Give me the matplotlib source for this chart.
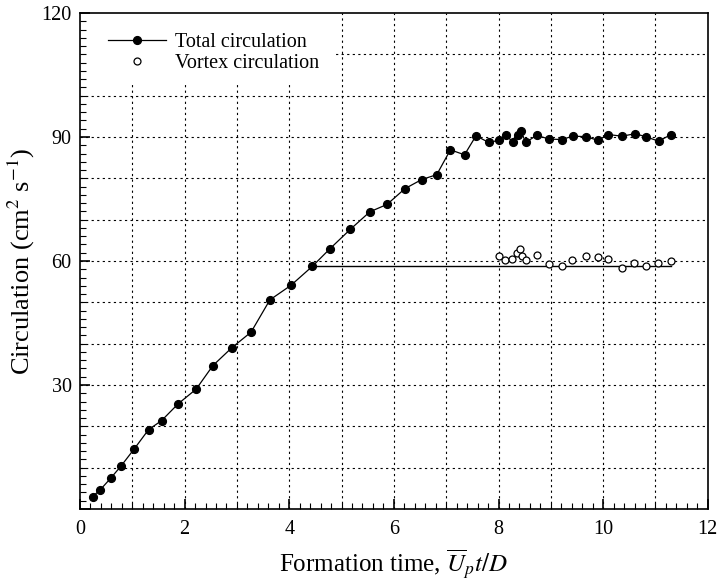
import matplotlib.pyplot as plt
from matplotlib.ticker import MultipleLocator
from matplotlib.patches import Rectangle

plt.rcParams['font.family'] = ['Liberation Serif', 'DejaVu Serif']
plt.rcParams['mathtext.fontset'] = 'stix'

# total circulation
total_t = [0.24, 0.39, 0.59, 0.79, 1.04, 1.31, 1.56, 1.88, 2.22, 2.54, 2.90, 3.27,
           3.63, 4.03, 4.44, 4.78, 5.17, 5.54, 5.87, 6.21, 6.53, 6.82, 7.08, 7.35,
           7.57, 7.81, 8.01, 8.14, 8.27, 8.38, 8.43, 8.52, 8.73, 8.97, 9.21, 9.42,
           9.67, 9.90, 10.10, 10.36, 10.61, 10.81, 11.06, 11.30]
total_c = [3.0, 4.7, 7.5, 10.5, 14.6, 19.2, 21.4, 25.5, 29.0, 34.7, 39.0, 42.8,
           50.6, 54.1, 58.7, 63.0, 67.7, 71.9, 73.7, 77.5, 79.7, 80.9, 86.9, 85.7,
           90.3, 88.7, 89.2, 90.4, 88.9, 90.6, 91.4, 88.7, 90.4, 89.5, 89.4, 90.2,
           90.1, 89.2, 90.6, 90.2, 90.8, 90.1, 89.0, 90.6]

# vortex circulation
vortex_t = [8.01, 8.13, 8.26, 8.35, 8.42, 8.45, 8.52, 8.73, 8.97, 9.21, 9.41,
            9.67, 9.90, 10.10, 10.36, 10.59, 10.81, 11.05, 11.30]
vortex_c = [61.1, 60.3, 60.5, 61.9, 62.9, 61.1, 60.3, 61.4, 59.3, 58.9, 60.3,
            61.1, 60.9, 60.5, 58.3, 59.5, 58.9, 59.5, 60.1]

# pinch-off level line
pinch_t = [4.44, 11.30]
pinch_c = [58.7, 58.7]

fig = plt.figure(figsize=(7.17, 5.84), dpi=100)
ax = fig.add_axes([0.1116, 0.1284, 0.8755, 0.8493])

grid_style = dict(color='black', lw=0.8, ls=(0, (2, 3)), zorder=0)
for gx in range(1, 12):
    ax.axvline(gx, **grid_style)
for gy in range(10, 120, 10):
    ax.axhline(gy, **grid_style)

# blank area behind the legend (grid is cut there in the original)
ax.add_patch(Rectangle((0, 0.855), 0.405, 0.145, transform=ax.transAxes,
                       facecolor='white', edgecolor='none', zorder=1))

ax.plot(pinch_t, pinch_c, color='black', lw=1.0, zorder=2)
ax.plot(total_t, total_c, color='black', lw=0.9, marker='o', ms=5.6,
        mfc='black', mec='black', label='Total circulation', zorder=3)
ax.plot(vortex_t, vortex_c, ls='none', marker='o', ms=5.0, mfc='white',
        mec='black', mew=0.9, label='Vortex circulation', zorder=3)

ax.set_xlim(0, 12)
ax.set_ylim(0, 120)
ax.xaxis.set_major_locator(MultipleLocator(2))
ax.xaxis.set_minor_locator(MultipleLocator(0.2))
ax.yaxis.set_minor_locator(MultipleLocator(2))
ax.set_yticks([0, 30, 60, 90, 120])
ax.set_yticklabels(['', '30', '60', '90', '120'])
ax.tick_params(which='both', direction='in', top=False, right=False, labelsize=14.5)
ax.tick_params(axis='x', which='major', pad=8)
ax.tick_params(axis='y', which='major', pad=6)
ax.tick_params(which='major', length=7, width=1.2)
ax.tick_params(which='minor', length=4, width=0.8)
for sp in ax.spines.values():
    sp.set_linewidth(1.2)

ax.set_xlabel(r'Formation time, $\overline{U}_p t/D$', fontsize=18, labelpad=6)
ax.set_ylabel(r'Circulation (cm$^2$ s$^{-1}$)', fontsize=19, labelpad=3)

leg = ax.legend(loc='upper left', frameon=False, fontsize=14.5, handlelength=2.9,
                borderpad=0.3, labelspacing=0.1, handletextpad=0.4,
                bbox_to_anchor=(0.019, 0.992))
leg.set_zorder(4)

fig.savefig('out.png', dpi=100)
